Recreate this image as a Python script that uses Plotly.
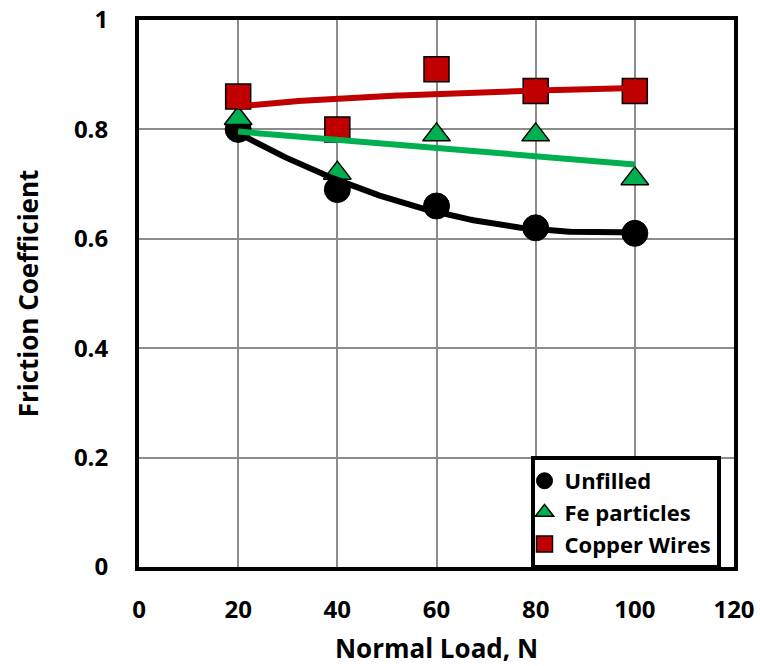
import numpy as np
import plotly.graph_objects as go

load = [20, 40, 60, 80, 100]
unfilled = [0.80, 0.69, 0.66, 0.62, 0.61]
fe_particles = [0.82, 0.72, 0.79, 0.79, 0.71]
copper_wires = [0.86, 0.80, 0.91, 0.87, 0.87]

x_ticks = [0, 20, 40, 60, 80, 100, 120]
y_ticks = [0, 0.2, 0.4, 0.6, 0.8, 1]

FONT = "Open Sans"
BLACK = "#000000"
GREEN = "#00B050"
RED = "#C00000"

xs = np.linspace(min(load), max(load), 200)
xa = np.array(load, dtype=float)

# Trendlines (fits of the data)
p_unf = np.polyfit(xa, unfilled, 2)
y_unf = np.polyval(p_unf, xs)
p_fe = np.polyfit(xa, fe_particles, 1)
y_fe = np.polyval(p_fe, xs)
p_cu = np.polyfit(np.log(xa), copper_wires, 1)
y_cu = np.polyval(p_cu, np.log(xs))

fig = go.Figure()

fig.add_trace(go.Scatter(x=load, y=unfilled, mode="markers", name="Unfilled",
                         marker=dict(symbol="circle", size=26, color=BLACK,
                                     line=dict(color=BLACK, width=1))))
fig.add_trace(go.Scatter(x=load, y=fe_particles, mode="markers", name="Fe particles",
                         marker=dict(symbol="triangle-up", size=24, color=GREEN,
                                     line=dict(color=BLACK, width=1.5))))
fig.add_trace(go.Scatter(x=load, y=copper_wires, mode="markers", name="Copper Wires",
                         marker=dict(symbol="square", size=25, color=RED,
                                     line=dict(color=BLACK, width=1.5))))

fig.add_trace(go.Scatter(x=xs, y=y_unf, mode="lines", showlegend=False,
                         line=dict(color=BLACK, width=6), hoverinfo="skip"))
fig.add_trace(go.Scatter(x=xs, y=y_fe, mode="lines", showlegend=False,
                         line=dict(color=GREEN, width=6), hoverinfo="skip"))
fig.add_trace(go.Scatter(x=xs, y=y_cu, mode="lines", showlegend=False,
                         line=dict(color=RED, width=6), hoverinfo="skip"))

fig.update_layout(
    width=760, height=666,
    margin=dict(l=139, r=26, t=20, b=99),
    paper_bgcolor="white", plot_bgcolor="white",
    font=dict(family=FONT, color=BLACK),
    showlegend=True,
    legend=dict(x=0.658, y=0.203, xanchor="left", yanchor="top",
                bgcolor="white", bordercolor=BLACK, borderwidth=4,
                font=dict(family=FONT, size=22, color=BLACK, weight="bold"),
                itemwidth=30, indentation=-10),
)

fig.update_xaxes(
    range=[0, 120], tickvals=x_ticks, ticktext=[str(v) for v in x_ticks],
    showgrid=True, gridcolor="#8c8c8c", gridwidth=2, automargin=False,
    zeroline=False, showline=True, linecolor=BLACK, linewidth=4, mirror=True,
    ticks="", ticklabelstandoff=18,
    tickfont=dict(family=FONT, size=24, color=BLACK, weight="bold"),
    title=dict(text="Normal Load, N", standoff=24,
               font=dict(family=FONT, size=26, color=BLACK, weight="bold")),
)
fig.update_yaxes(
    range=[0, 1], tickvals=y_ticks, ticktext=["0", "0.2", "0.4", "0.6", "0.8", "1"],
    showgrid=True, gridcolor="#8c8c8c", gridwidth=2, automargin=False,
    zeroline=False, showline=True, linecolor=BLACK, linewidth=4, mirror=True,
    ticks="", ticklabelstandoff=22,
    tickfont=dict(family=FONT, size=24, color=BLACK, weight="bold"),
    title=dict(text="Friction Coefficient", standoff=29,
               font=dict(family=FONT, size=26, color=BLACK, weight="bold")),
)

fig.write_html("out.html")
